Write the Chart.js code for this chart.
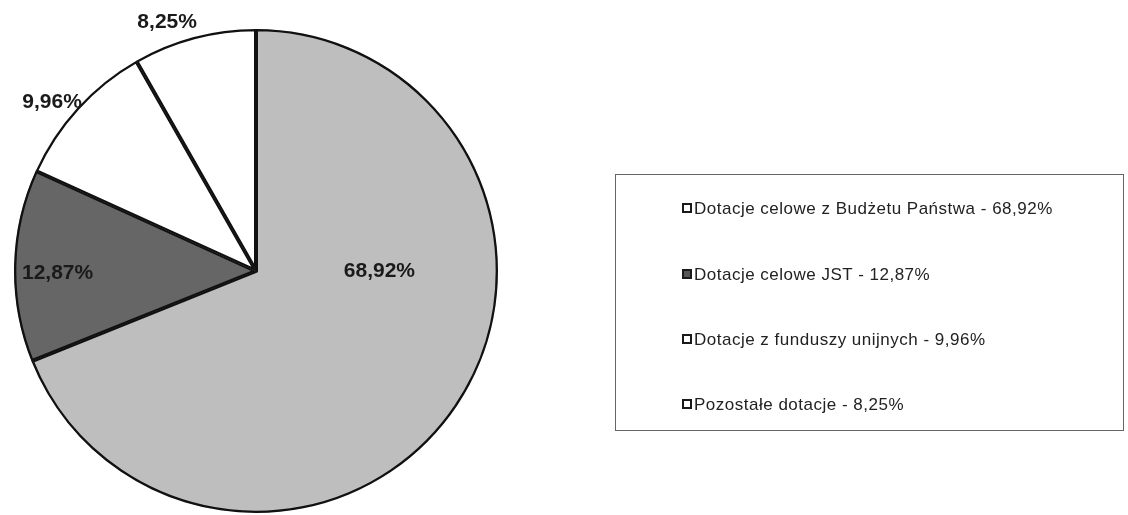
<!DOCTYPE html>
<html>
<head>
<meta charset="utf-8">
<script src="https://cdn.jsdelivr.net/npm/chart.js@4"></script>
<style>
  html, body { margin: 0; padding: 0; background: #fff; }
  #wrap { position: relative; width: 1128px; height: 515px; }
  #legendBox {
    position: absolute; left: 615px; top: 174px; width: 509px; height: 257px;
    border: 1px solid #666; box-sizing: border-box;
    font-family: "Liberation Sans", Arial, sans-serif; font-size: 17px; color: #222;
  }
  .item { position: absolute; left: 66px; height: 20px; line-height: 20px; white-space: nowrap; letter-spacing: 0.5px; }
  .mark { display: inline-block; width: 6px; height: 6px; border: 2px solid #1a1a1a; margin-right: 2px; vertical-align: 1px; }
</style>
</head>
<body>
<div id="wrap">
  <canvas id="pieChart" width="1128" height="515"></canvas>
  <div id="legendBox"></div>
</div>
<script>
const categories = [
  "Dotacje celowe z Budżetu Państwa",
  "Dotacje celowe JST",
  "Dotacje z funduszy unijnych",
  "Pozostałe dotacje"
];
const shares = [68.92, 12.87, 9.96, 8.25];
const shareLabels = ["68,92%", "12,87%", "9,96%", "8,25%"];

const sliceColors = ["#bebebe", "#666666", "#ffffff", "#ffffff"];
const markColors = ["#ffffff", "#555555", "#ffffff", "#ffffff"];
// label placement: angle (deg clockwise from top), distance as fraction of radius
const labelPos = [[89, 0.51], [270, 0.82], [310, 1.1], [340.5, 1.1]];

const pieLabels = {
  id: "pieLabels",
  afterDraw(chart) {
    const arc = chart.getDatasetMeta(0).data[0];
    const cx = arc.x, cy = arc.y, r = arc.outerRadius;
    const ctx = chart.ctx;
    ctx.save();
    ctx.font = "bold 21px 'Liberation Sans', Arial, sans-serif";
    ctx.fillStyle = "#1a1a1a";
    ctx.textAlign = "center";
    ctx.textBaseline = "middle";
    shareLabels.forEach((t, i) => {
      const a = labelPos[i][0] * Math.PI / 180;
      const d = labelPos[i][1] * r;
      ctx.fillText(t, cx + Math.sin(a) * d, cy - Math.cos(a) * d + 2);
    });
    ctx.restore();
  }
};

new Chart(document.getElementById("pieChart").getContext("2d"), {
  type: "pie",
  data: {
    labels: categories,
    datasets: [{
      data: shares,
      backgroundColor: sliceColors,
      borderColor: "#111111",
      borderWidth: 2,
      borderAlign: "inner"
    }]
  },
  options: {
    responsive: false,
    animation: false,
    layout: { padding: { left: 14, top: 29, right: 630, bottom: 2 } },
    plugins: {
      legend: { display: false },
      tooltip: { enabled: false }
    }
  },
  plugins: [pieLabels]
});

// legend box
const box = document.getElementById("legendBox");
const rowY = [24, 90, 155, 220];
categories.forEach((c, i) => {
  const div = document.createElement("div");
  div.className = "item";
  div.style.top = rowY[i] + "px";
  div.innerHTML = '<span class="mark" style="background:' + markColors[i] + '"></span>' +
    c + " - " + shareLabels[i];
  box.appendChild(div);
});
</script>
</body>
</html>
